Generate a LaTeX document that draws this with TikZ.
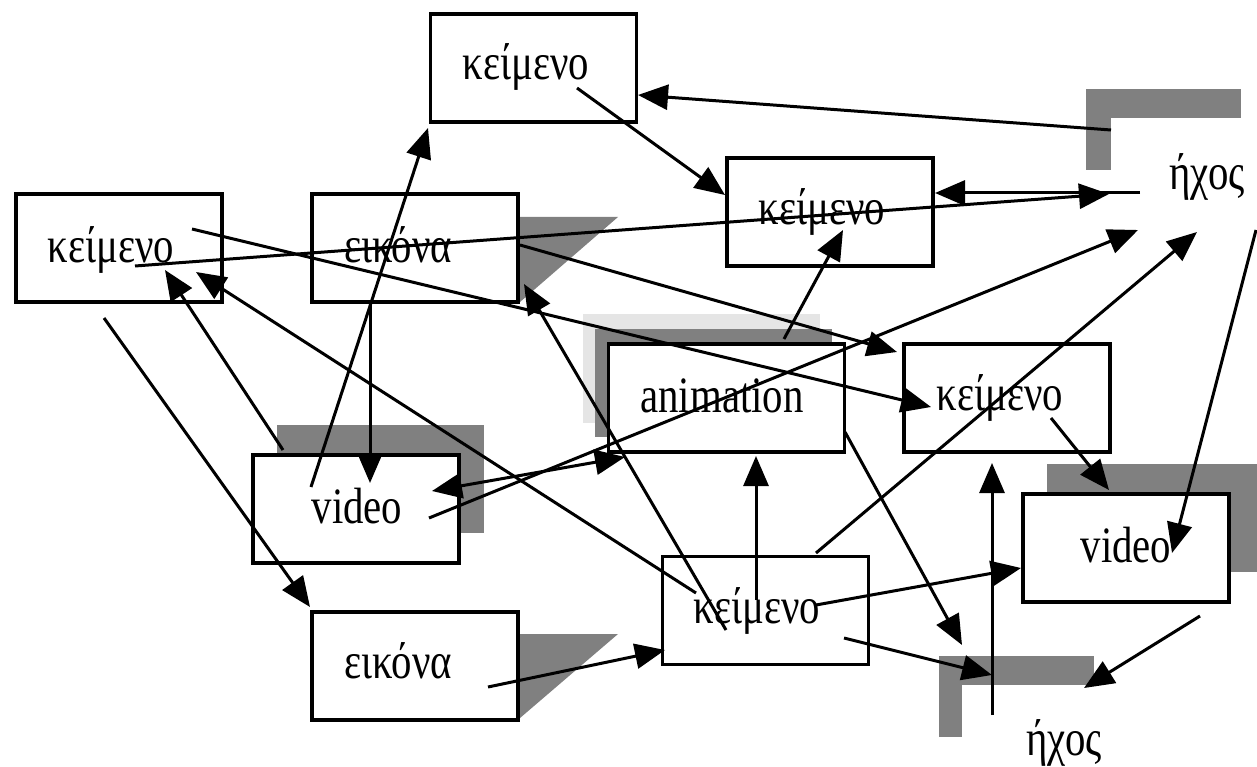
\documentclass[tikz,border=0pt]{standalone}
\usepackage{fontspec}
\setmainfont[FakeStretch=0.8]{Liberation Serif}
\usetikzlibrary{arrows.meta}
\definecolor{shade}{HTML}{808080}
\definecolor{lightshade}{HTML}{E5E5E5}
\tikzset{
  box/.style={draw, line width=3.3pt, fill=white, inner sep=0pt, minimum width=206pt, minimum height=108pt},
  wide/.style={minimum width=236pt},
  lbl/.style={anchor=base, inner sep=0pt, font=\fontsize{51}{60}\selectfont},
  tip/.style={Triangle[length=30pt,width=25pt]},
  link/.style={line width=3pt, -{Triangle[length=30pt,width=25pt]}},
  twoway/.style={line width=3pt, {Triangle[length=30pt,width=25pt]}-{Triangle[length=30pt,width=25pt]}},
  shadow/.style={fill=shade, draw=none},
  halo/.style={fill=lightshade, draw=none}
}
\begin{document}
\begin{tikzpicture}[x=1pt,y=-1pt]
\useasboundingbox (0,0) rectangle (1257,767);
\fill[white] (0,0) rectangle (1257,767);

% shadows
\fill[shadow] (520,217) -- (618,217) -- (520,302) -- cycle;
\fill[shadow] (520,634) -- (618,634) -- (520,718) -- cycle;
\fill[shadow] (277,425) rectangle (484,533);
\fill[halo] (583,314) rectangle (820,423);
\fill[shadow] (595,329) rectangle (832,437);
\fill[shadow] (1047,464) rectangle (1257,572);
\fill[shadow] (1086,89) rectangle (1241,118);
\fill[shadow] (1086,89) rectangle (1111,170);
\fill[shadow] (939,656) rectangle (1094,685);
\fill[shadow] (939,656) rectangle (962,737);

% boxes
\node[box] (kt)  at (533.5,68) {};
\node[box] (kl)  at (119,248) {};
\node[box] (ei1) at (415,248) {};
\node[box] (kr)  at (830,212) {};
\node[box,wide] (an) at (726.5,398) {};
\node[box] (km)  at (1007,398) {};
\node[box] (v1)  at (356,509) {};
\node[box] (v2)  at (1126,548) {};
\node[box] (ei2) at (415,666) {};
\node[box] (kb)  at (765.5,610.5) {};

% labels
\node[lbl] (tkt)  at (526,80)  {κείμενο};
\node[lbl] (tkl)  at (111,262) {κείμενο};
\node[lbl] (tei1) at (398,262) {εικόνα};
\node[lbl] (tkr)  at (822,225) {κείμενο};
\node[lbl] (tan)  at (722,412) {animation};
\node[lbl] (tkm)  at (1000,410) {κείμενο};
\node[lbl] (tv1)  at (357,523) {video};
\node[lbl] (tv2)  at (1126,562) {video};
\node[lbl] (tei2) at (398,678) {εικόνα};
\node[lbl] (tkb)  at (757,623) {κείμενο};
\node[lbl] (h1)   at (1207,190) {ήχος};
\node[lbl] (h2)   at (1064,755) {ήχος};

% connector end points
\coordinate (p1s) at (577,88);   \coordinate (p1e) at (725,195);
\coordinate (p2s) at (1111,130); \coordinate (p2e) at (638,95);
\coordinate (p3s) at (1140,193); \coordinate (p3e) at (935,193);
\coordinate (p4s) at (135,266);  \coordinate (p4e) at (1109,194);
\coordinate (p5s) at (192,229);  \coordinate (p5e) at (931,407);
\coordinate (p6s) at (520,245);  \coordinate (p6e) at (897,352);
\coordinate (p7s) at (311,487);  \coordinate (p7e) at (428,128);
\coordinate (p8s) at (370,302);  \coordinate (p8e) at (370,483);
\coordinate (p9s) at (283,450);  \coordinate (p9e) at (165,270);
\coordinate (p10s) at (696,593); \coordinate (p10e) at (196,272);
\coordinate (p11s) at (104,318); \coordinate (p11e) at (310,607);
\coordinate (p12s) at (726,630); \coordinate (p12e) at (524,284);
\coordinate (p13s) at (784,339); \coordinate (p13e) at (843,230);
\coordinate (p14s) at (432,491); \coordinate (p14e) at (625,457);
\coordinate (p15s) at (429,518); \coordinate (p15e) at (1138,230);
\coordinate (p16s) at (816,553); \coordinate (p16e) at (1197,232);
\coordinate (p17s) at (1256,230); \coordinate (p17e) at (1172,553);
\coordinate (p18s) at (1051,418); \coordinate (p18e) at (1109,490);
\coordinate (p19s) at (488,687); \coordinate (p19e) at (665,650);
\coordinate (p20s) at (756,600); \coordinate (p20e) at (756,456);
\coordinate (p21s) at (816,605); \coordinate (p21e) at (1021,568);
\coordinate (p22s) at (844,638); \coordinate (p22e) at (992,675);
\coordinate (p23s) at (845,432); \coordinate (p23e) at (962,645);
\coordinate (p24s) at (992,715); \coordinate (p24e) at (992,463);
\coordinate (p25s) at (1200,616); \coordinate (p25e) at (1084,688);

% connectors
\draw[link] (p1s) -- (p1e);
\draw[link] (p2s) -- (p2e);
\draw[link] (p3s) -- (p3e);
\draw[link] (p4s) -- (p4e);
\draw[link] (p5s) -- (p5e);
\draw[link] (p6s) -- (p6e);
\draw[link] (p7s) -- (p7e);
\draw[link] (p8s) -- (p8e);
\draw[link] (p9s) -- (p9e);
\draw[link] (p10s) -- (p10e);
\draw[link] (p11s) -- (p11e);
\draw[link] (p12s) -- (p12e);
\draw[link] (p13s) -- (p13e);
\draw[twoway] (p14s) -- (p14e);
\draw[link] (p15s) -- (p15e);
\draw[link] (p16s) -- (p16e);
\draw[link] (p17s) -- (p17e);
\draw[link] (p18s) -- (p18e);
\draw[link] (p19s) -- (p19e);
\draw[link] (p20s) -- (p20e);
\draw[link] (p21s) -- (p21e);
\draw[link] (p22s) -- (p22e);
\draw[link] (p23s) -- (p23e);
\draw[link] (p24s) -- (p24e);
\draw[link] (p25s) -- (p25e);
\end{tikzpicture}
\end{document}
